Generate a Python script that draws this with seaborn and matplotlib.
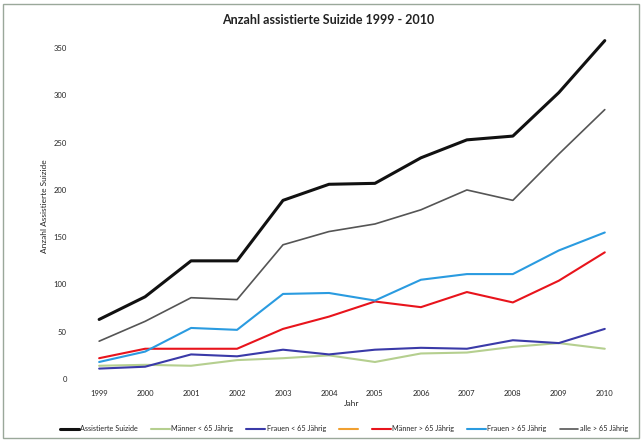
import matplotlib
matplotlib.use("Agg")
import matplotlib.pyplot as plt
import seaborn as sns
import pandas as pd
from matplotlib.lines import Line2D
from matplotlib.patches import Rectangle

years = [1999, 2000, 2001, 2002, 2003, 2004, 2005, 2006, 2007, 2008, 2009, 2010]
assistierte = [63, 87, 125, 125, 189, 206, 207, 234, 253, 257, 303, 358]
maenner_u65 = [14, 15, 14, 20, 22, 25, 18, 27, 28, 34, 38, 32]
frauen_u65 = [11, 13, 26, 24, 31, 26, 31, 33, 32, 41, 38, 53]
maenner_ue65 = [22, 32, 32, 32, 53, 66, 82, 76, 92, 81, 104, 134]
frauen_ue65 = [18, 29, 54, 52, 90, 91, 83, 105, 111, 111, 136, 155]
alle_ue65 = [40, 61, 86, 84, 142, 156, 164, 179, 200, 189, 238, 285]

labels = ["Assistierte Suizide", "Männer < 65 Jährig", "Frauen < 65 Jährig", "",
          "Männer > 65 Jährig", "Frauen > 65 Jährig", "alle > 65 Jährig"]
colors = ["#111111", "#b5cf8f", "#3a3aa8", "#f0a030", "#e8141c", "#2a9be0", "#555555"]
widths = [2.2, 1.5, 1.5, 1.5, 1.5, 1.5, 1.2]
yticks = [0, 50, 100, 150, 200, 250, 300, 350]

series = {
    labels[0]: assistierte,
    labels[1]: maenner_u65,
    labels[2]: frauen_u65,
    labels[4]: maenner_ue65,
    labels[5]: frauen_ue65,
    labels[6]: alle_ue65,
}
rows = []
for name, vals in series.items():
    for y, v in zip(years, vals):
        rows.append({"Jahr": y, "Wert": v, "Serie": name})
df = pd.DataFrame(rows)

sns.set_theme(style="white")
plt.rcParams["font.family"] = ["Lato", "DejaVu Sans"]

fig = plt.figure(figsize=(6.43, 4.41), dpi=100)
ax = fig.add_axes([78 / 643, (441 - 379) / 441, 547 / 643, 345 / 441])

order = [labels[6], labels[1], labels[2], labels[4], labels[5], labels[0]]
for name in order:
    i = labels.index(name)
    sub = df[df["Serie"] == name]
    sns.lineplot(data=sub, x="Jahr", y="Wert", color=colors[i], linewidth=widths[i],
                 ax=ax, legend=False)

ax.set_xlim(1998.54, 2010.44)
ax.set_ylim(0, 365)
ax.set_xticks(years)
ax.set_xticklabels([str(y) for y in years], fontsize=5.5)
ax.set_yticks(yticks)
ax.set_yticklabels([str(t) for t in yticks], fontsize=5.5)
ax.tick_params(axis="both", length=0, pad=8)
for s in ax.spines.values():
    s.set_visible(False)
ax.set_xlabel("Jahr", fontsize=6, labelpad=2)
ax.set_ylabel("Anzahl Assistierte Suizide", fontsize=6, labelpad=4)
fig.text(0.51, 0.955, "Anzahl assistierte Suizide 1999 - 2010", ha="center", va="center",
         fontsize=9, fontweight="bold", color="#222222")

handles = [Line2D([0], [0], color=c, lw=w) for c, w in zip(colors, widths)]
fig.legend(handles, labels, loc="center", bbox_to_anchor=(0.535, 0.028), ncol=7, frameon=False,
           fontsize=5.2, handlelength=2.6, handletextpad=0.2, columnspacing=1.8)

fig.patches.append(Rectangle((0.004, 0.006), 0.99, 0.985, transform=fig.transFigure,
                             fill=False, edgecolor="#9aa89a", linewidth=1.0))

fig.savefig("out.png", dpi=100)
